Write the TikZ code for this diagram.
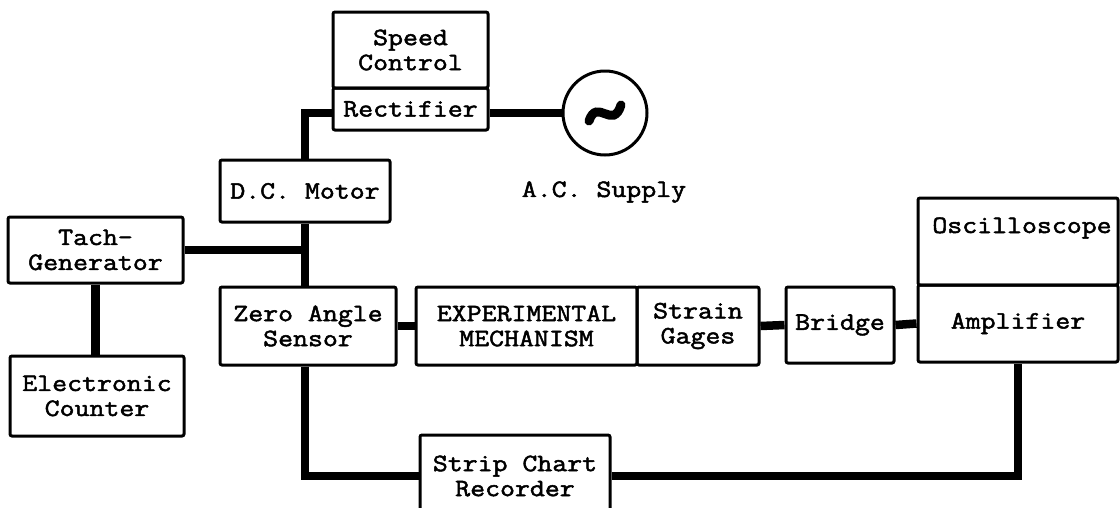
\documentclass[tikz,border=0pt]{standalone}
\usepackage{fontspec}
\newfontfamily\tw{Latin Modern Mono}[FakeStretch=1.16, FakeBold=2]
\begin{document}
\begin{tikzpicture}[x=1pt,y=-1pt,
  blk/.style={draw, line width=3pt, rounded corners=2pt, inner sep=0pt, align=center,
    font=\tw\fontsize{25}{25}\selectfont},
  txt/.style={inner sep=0pt, font=\tw\fontsize{25}{25}\selectfont},
  wire/.style={line width=8.5pt, line cap=butt, line join=miter}]
\useasboundingbox (0,0) rectangle (1120,507);
\clip (0,0) rectangle (1120,507);
% boxes
\node[blk, minimum width=155pt, minimum height=76pt] (speed) at (410.5,50) {Speed\\Control};
\node[blk, minimum width=155pt, minimum height=42pt, text height=15pt, text depth=0pt] (rect) at (410.5,109) {Rectifier};
\node[draw, circle, line width=3pt, minimum size=84pt, inner sep=0pt] (ac) at (605,113) {};
\node[txt] (acl) at (604,192) {A.C. Supply};
\node[blk, minimum width=170pt, minimum height=62pt] (motor) at (305,191) {D.C. Motor};
\node[blk, minimum width=175pt, minimum height=66pt] (tach) at (95.5,250) {Tach-\\Generator};
\node[blk, minimum width=174pt, minimum height=80pt] (counter) at (97,396) {Electronic\\Counter};
\node[blk, minimum width=176pt, minimum height=78pt] (zero) at (308,326) {Zero Angle\\Sensor};
\node[blk, minimum width=221pt, minimum height=78pt] (exp) at (526.5,326) {EXPERIMENTAL\\MECHANISM};
\node[blk, minimum width=122pt, minimum height=78pt] (strain) at (698,326) {Strain\\Gages};
\node[blk, minimum width=108pt, minimum height=76pt] (bridge) at (840,325) {Bridge};
\node[blk, minimum width=200pt, minimum height=87pt] (osc) at (1018,241.5) {};
\node[txt] (oscl) at (1022,228) {Oscilloscope};
\node[blk, minimum width=200pt, minimum height=77pt] (amp) at (1018,323.5) {Amplifier};
\node[blk, minimum width=190pt, minimum height=82pt] (rec) at (515,476) {Strip Chart\\Recorder};
% tilde
\draw[line width=9pt, line cap=round] (589,121) .. controls (597,97) and (613,131) .. (621,105);
% wires
\draw[wire] (rect.west |- ac.center) -| (motor.north);
\draw[wire] (rect.east |- ac.center) -- (ac.west);
\draw[wire] (motor.south) -- (motor.south |- zero.north);
\draw[wire] (tach.east) -- (tach.east -| motor.south);
\draw[wire] (tach.south) -- (tach.south |- counter.north);
\draw[wire] (zero.east) -- (exp.west);
\draw[wire] (strain.east) -- (bridge.west);
\draw[wire] (bridge.east) -- (amp.west);
\draw[wire] (motor.south |- zero.south) |- (rec.west);
\draw[wire] (rec.east) -| (amp.south);
\end{tikzpicture}
\end{document}
